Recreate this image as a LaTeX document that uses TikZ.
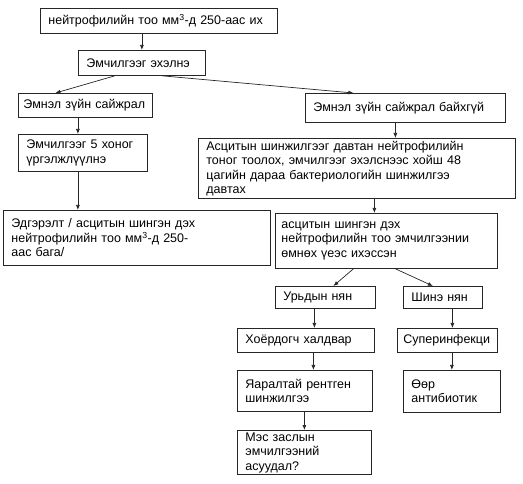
\documentclass[tikz,border=0pt]{standalone}
\usepackage{fontspec}
\setmainfont{Liberation Sans}
\usetikzlibrary{arrows.meta,calc}

\begin{document}
\begin{tikzpicture}[
  x=1pt, y=-1pt,
  block/.style={rectangle, draw=black!85, line width=0.8pt, anchor=north west, align=left, inner xsep=8pt, inner ysep=2pt, font=\fontsize{12.5}{14.5}\selectfont},
  arrow/.style={-{Latex[length=5pt,width=4pt]}, line width=0.7pt, black!85},
]
\useasboundingbox (0,0) rectangle (523,484);

% Start
\node[block, text width=221pt, minimum height=25pt] (neut) at (40,8) {нейтрофилийн тоо мм\textsuperscript{3}-д 250-аас их};
\node[block, text width=111pt, minimum height=25pt] (start) at (78,50) {Эмчилгээг эхэлнэ};

% Left branch
\node[block, inner xsep=5pt, text width=124pt, minimum height=24pt] (improve) at (18,93) {Эмнэл зүйн сайжрал};
\node[block, text width=113pt, minimum height=37pt] (cont) at (18,134) {Эмчилгээг 5 хоног\\үргэлжлүүлнэ};
\node[block, text width=251pt, minimum height=55pt] (heal) at (3,210) {Эдгэрэлт / асцитын шингэн дэх\\нейтрофилийн тоо мм\textsuperscript{3}-д 250-\\аас бага/};

% Right branch
\node[block, text width=184pt, minimum height=29pt] (noimprove) at (305,93) {Эмнэл зүйн сайжрал байхгүй};
\node[block, text width=301pt, minimum height=60pt] (repeat) at (198,138) {Асцитын шинжилгээг давтан нейтрофилийн\\тоног тоолох, эмчилгээг эхэлснээс хойш 48\\цагийн дараа бактериологийн шинжилгээ\\давтах};
\node[block, inner xsep=6pt, text width=210pt, minimum height=55pt] (rise) at (275,213) {асцитын шингэн дэх\\нейтрофилийн тоо эмчилгээнии\\өмнөх үеэс ихэссэн};

% Old / new organism
\node[block, text width=84pt, minimum height=22pt] (prior) at (275,286) {Урьдын нян};
\node[block, text width=63pt, minimum height=22pt] (newbug) at (403,286) {Шинэ нян};
\node[block, text width=121pt, minimum height=24pt] (second) at (237,328) {Хоёрдогч халдвар};
\node[block, inner xsep=6pt, text width=88pt, minimum height=24pt] (super) at (397,328) {Суперинфекци};
\node[block, text width=119pt, minimum height=41pt] (xray) at (237,370) {Яаралтай рентген\\шинжилгээ};
\node[block, text width=81pt, minimum height=42pt] (other) at (403,370) {Өөр\\антибиотик};
\node[block, text width=118pt, minimum height=44pt] (surg) at (237,430) {Мэс заслын\\эмчилгээний\\асуудал?};

% Arrows
\draw[arrow] (start.north |- neut.south) -- (start.north);
\draw[arrow] ($(start.south)+(-27,0)$) -- ($(improve.north)+(-30,0)$);
\draw[arrow] ($(start.south)+(20,0)$) -- ($(noimprove.north)+(-52,0)$);
\draw[arrow] ($(cont.north |- improve.south)+(-5,0)$) -- ($(cont.north)+(-5,0)$);
\draw[arrow] ($(cont.south)+(-5,0)$) -- ($(cont.south |- heal.north)+(-5,0)$);
\draw[arrow] ($(noimprove.south)+(-10,0)$) -- ($(noimprove.south |- repeat.north)+(-10,0)$);
\draw[arrow] ($(rise.north |- repeat.south)+(-12,0)$) -- ($(rise.north)+(-12,0)$);
\draw[arrow] ($(rise.south)+(-33,0)$) -- ($(prior.north)+(8,0)$);
\draw[arrow] ($(rise.south)+(9,0)$) -- ($(newbug.north)+(-10,0)$);
\draw[arrow] ($(prior.south)+(-11,0)$) -- ($(prior.south |- second.north)+(-11,0)$);
\draw[arrow] ($(super.north |- newbug.south)+(5,0)$) -- ($(super.north)+(5,0)$);
\draw[arrow] ($(second.south)+(7.5,0)$) -- ($(second.south |- xray.north)+(7.5,0)$);
\draw[arrow] (other.north |- super.south) -- (other.north);
\draw[arrow] (surg.north |- xray.south) -- (surg.north);

\end{tikzpicture}
\end{document}
